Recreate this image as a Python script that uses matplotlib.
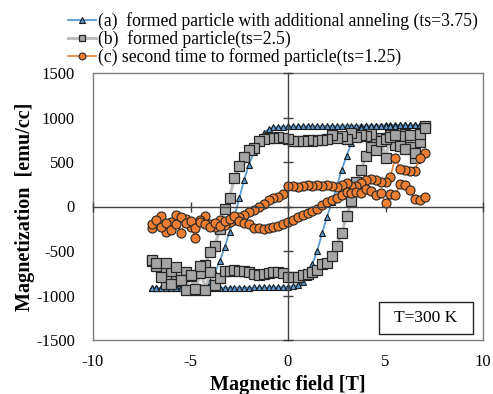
import matplotlib
matplotlib.use("Agg")
import matplotlib.pyplot as plt
from matplotlib.patches import Rectangle

plt.rcParams['font.family'] = ['Liberation Serif', 'DejaVu Serif']
plt.rcParams['axes.unicode_minus'] = False

# field steps of one branch, from +7 T down to -7 T
H_down = [7.0, 6.75, 6.5, 6.25, 6.0, 5.75, 5.5, 5.25, 5.0, 4.75, 4.5, 4.25, 4.0,
          3.75, 3.5, 3.25, 3.0, 2.75, 2.5, 2.25, 2.0, 1.75, 1.5, 1.25, 1.0,
          0.75, 0.5, 0.25, 0.0, -0.25, -0.5, -0.75, -1.0, -1.25, -1.5, -1.75,
          -2.0, -2.25, -2.5, -2.75, -3.0, -3.25, -3.5, -3.75, -4.0, -4.25,
          -4.5, -4.75, -5.0, -5.25, -5.5, -5.75, -6.0, -6.25, -6.5, -6.75, -7.0]
H_up = H_down[::-1]

# (a) formed particle with additional anneling
a_down = [915, 914, 914, 913, 913, 912, 912, 911, 911, 910, 910, 909, 909,
          908, 908, 907, 907, 906, 906, 905, 905, 904, 904, 903, 903,
          902, 901, 900, 899, 897, 894, 888, 868, 825, 740, 610,
          470, 300, 90, -110, -290, -460, -615, -745, -840, -890,
          -908, -914, -916, -917, -918, -918, -919, -919, -920, -920, -920]
a_up = [-920, -920, -920, -919, -919, -918, -918, -917, -917, -916, -916, -915,
        -915, -914, -914, -913, -913, -912, -912, -911, -911, -910, -910, -909,
        -909, -908, -906, -903, -900, -895, -880, -850, -790, -650, -495,
        -300, -115, 45, 225, 410, 565, 715, 830, 885, 900, 905, 907, 908,
        909, 910, 910, 911, 911, 912, 912, 913, 913]

# (b) formed particle
b_down = [900, 720, 540, 670, 810, 790, 690, 800, 540, 770, 735, 820, 790,
          800, 780, 830, 760, 790, 775, 800, 760, 750, 745, 740, 742,
          735, 738, 740, 755, 770, 778, 775, 765, 755, 735, 660,
          630, 555, 450, 320, 100, -30, -250, -440, -510, -660,
          -750, -935, -780, -740, -830, -840, -725, -870, -700, -665, -610]
b_up = [-600, -640, -790, -640, -870, -680, -825, -935, -775, -930, -665, -935,
        -740, -885, -800, -720, -725, -718, -720, -730, -740, -760, -775, -760,
        -748, -740, -740, -745, -790, -795, -787, -770, -756, -735, -715, -650,
        -635, -560, -440, -300, -110, 60, 270, 412, 573, 666, 640, 735,
        760, 780, 800, 685, 650, 800, 600, 815, 880]

# (c) second time to formed particle
c_down = [600, 545, 400, 395, 410, 420, 550, 330, 280, 270, 295, 310, 300,
          265, 235, 230, 260, 240, 215, 225, 240, 230, 238, 228, 240,
          232, 222, 230, 225, 140, 110, 100, 70, 25, -5, -35,
          -60, -95, -120, -150, -170, -210, -150, -230, -195, -110,
          -150, -350, -230, -140, -300, -100, -175, -290, -110, -185, -240]
c_up = [-200, -150, -230, -180, -260, -200, -120, -190, -160, -240, -170, -200,
        -230, -180, -220, -160, -140, -110, -160, -190, -200, -240, -245, -250,
        -240, -235, -220, -200, -175, -150, -120, -100, -75, -50, -25, 20,
        50, 70, 90, 130, 160, 150, 160, 150, 200, 175, 130, 150,
        40, 140, 130, 250, 240, 180, 80, 70, 110]

labels = ['(a)  formed particle with additional anneling (ts=3.75)',
          '(b)  formed particle(ts=2.5)',
          '(c) second time to formed particle(ts=1.25)']

H = H_down + H_up
series = [a_down + a_up, b_down + b_up, c_down + c_up]
styles = [
    dict(color='#5B9BD5', lw=1.3, marker='^', ms=5, mfc='#5B9BD5', mec='#1a1a1a', mew=0.8),
    dict(color='#BFBFBF', lw=2.2, marker='s', ms=6.5, mfc='#A5A5A5', mec='#262626', mew=0.9),
    dict(color='#ED7D31', lw=1.2, marker='o', ms=6.5, mfc='#ED7D31', mec='#262626', mew=0.8),
]

fig = plt.figure(figsize=(4.93, 3.94), dpi=100)
pos = [93 / 493, 54 / 394, 390 / 493, 267 / 394]

# frame with the tick labels at the edges
ax2 = fig.add_axes(pos)
ax2.set_xlim(-10, 10)
ax2.set_ylim(-1500, 1500)
ax2.set_xticks([-10, -5, 0, 5, 10])
ax2.set_yticks(range(-1500, 1501, 500))
ax2.tick_params(length=0, labelsize=12)
ax2.tick_params(axis='y', pad=13)
ax2.tick_params(axis='x', pad=10)
for s in ax2.spines.values():
    s.set_color('#7f7f7f')
    s.set_linewidth(1.0)
ax2.set_xlabel('Magnetic field [T]', fontsize=14.5, fontweight='bold', labelpad=4)
ax2.set_ylabel('Magnetization  [emu/cc]', fontsize=14.5, fontweight='bold', labelpad=1)

# data axes with crossing axis lines through the origin
ax = fig.add_axes(pos, sharex=ax2, sharey=ax2)
ax.patch.set_visible(False)
ax.spines['left'].set_position('zero')
ax.spines['bottom'].set_position('zero')
ax.spines['top'].set_visible(False)
ax.spines['right'].set_visible(False)
for k in ['left', 'bottom']:
    ax.spines[k].set_color('#404040')
    ax.spines[k].set_linewidth(1.0)
ax.tick_params(direction='inout', length=7, width=1.0, color='#404040',
               labelleft=False, labelbottom=False)

lines = []
for m, st, lab in zip(series, styles, labels):
    ln, = ax.plot(H, m, label=lab, **st)
    lines.append(ln)

fig.legend(handles=lines, loc='upper left', bbox_to_anchor=(57 / 493, 0.995),
           frameon=False, fontsize=12.7, handlelength=1.6, handletextpad=0.12,
           labelspacing=0.0, borderaxespad=0.2, markerscale=0.75)

ax.add_patch(Rectangle((0.733, 0.022), 0.241, 0.12, transform=ax.transAxes,
                       facecolor='white', edgecolor='#262626', lw=1.0, zorder=5))
ax.text(0.8535, 0.082, 'T=300 K', transform=ax.transAxes, ha='center',
        va='center', fontsize=12.5, zorder=6)

fig.savefig('out.png', dpi=100)
